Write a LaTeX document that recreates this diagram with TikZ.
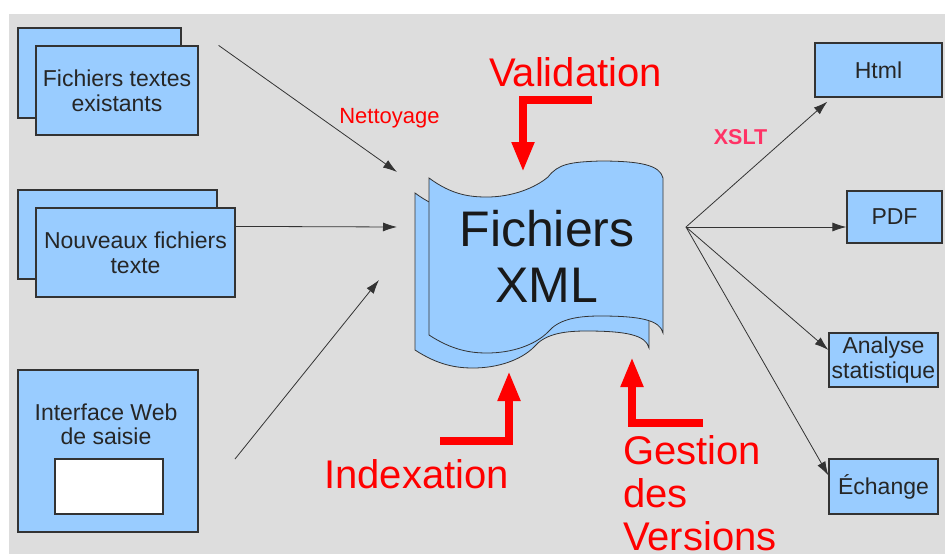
\documentclass[tikz,border=0pt]{standalone}
\usepackage{fontspec}
\setmainfont{Liberation Sans}
\usetikzlibrary{arrows.meta,calc}
\definecolor{hellblau}{HTML}{99CCFF}
\definecolor{hintergrund}{HTML}{DDDDDD}
\definecolor{rand}{HTML}{333333}
\definecolor{xsltrot}{HTML}{FF3366}
\begin{document}
\begin{tikzpicture}
	[
	x=1pt, y=-1pt, 
	kasten/.style={draw=rand, line width=1.2pt, fill=hellblau, text=black!85, align=center, inner sep=0pt, font=\fontsize{23}{25}\selectfont},
	pfeil/.style={-{Latex[length=14pt,width=9pt]}, draw=black!80, line width=0.8pt},
	rotpfeil/.style={-{Triangle[length=30pt,width=21pt]}, draw=red, line width=8pt, line join=miter},
	rottext/.style={text=red, inner sep=0pt, font=\fontsize{40}{43}\selectfont}
	%Voreinstellungen
	]
	%Hintergrund
	\useasboundingbox (0,0) rectangle (945,554);
	\fill[hintergrund] (9,14) rectangle (945,554);
	%Quellen links
	\node[kasten, minimum width=163pt, minimum height=90pt] (exist-hinten) at (99.5,73) {};
	\node[kasten, minimum width=162pt, minimum height=89pt] (exist) at (117,90.5) {Fichiers textes\\existants};
	\node[kasten, minimum width=199pt, minimum height=89pt] (neu-hinten) at (117.5,234.5) {};
	\node[kasten, minimum width=199pt, minimum height=89pt] (neu) at (135.5,252.5) {Nouveaux fichiers\\texte};
	\node[kasten, minimum width=180pt, minimum height=162pt] (web) at (108,451) {};
	\node[text=black!85, align=center, inner sep=0pt, font=\fontsize{23}{24}\selectfont] (web-text) at (106,424) {Interface Web\\de saisie};
	\node[draw=rand, line width=1.2pt, fill=white, minimum width=108pt, minimum height=55pt] (feld) at (109,486.5) {};
	%Rolle XML
	\foreach \dx/\dy in {-14/15, 0/0}
	{
		\draw[draw=rand, line width=0.8pt, fill=hellblau, shift={(\dx,\dy)}] (429,178) .. controls (452,195) and (470,197) .. (487,197)
			.. controls (512,197) and (535,188) .. (548,177) .. controls (558,164) and (570,162) .. (600,161)
			.. controls (640,161) and (660,165) .. (663,178) -- (663,333)
			.. controls (660,320) and (640,316) .. (600,316) .. controls (575,316) and (558,320) .. (548,332)
			.. controls (535,345) and (512,353) .. (487,353) .. controls (470,353) and (452,350) .. (429,335) -- cycle;
	}
	\node[text=black!90, align=center, inner sep=0pt, font=\fontsize{50}{56}\selectfont] (xml) at (547,256) {Fichiers\\XML};
	%Ausgaben rechts
	\node[kasten, minimum width=127pt, minimum height=54pt] (html) at (878.5,70) {Html};
	\node[kasten, minimum width=95pt, minimum height=52pt] (pdf) at (894.5,217) {PDF};
	\node[kasten, minimum width=109pt, minimum height=54pt] (ana) at (883.5,360) {Analyse\\statistique};
	\node[kasten, minimum width=109pt, minimum height=55pt] (ech) at (883.5,486.5) {Échange};
	%Pfeile
	\coordinate (ein1) at (397,172);
	\coordinate (ein2) at (397,227);
	\coordinate (ein3) at (379,280);
	\coordinate (web-aus) at (235,459);
	\coordinate (fan) at (686,227);
	\draw[pfeil] ($(exist.north east)+(20,0)$) -- (ein1);
	\draw[pfeil] ($(neu.north east)+(0,19)$) -- (ein2);
	\draw[pfeil] (web-aus) -- (ein3);
	\draw[pfeil] (fan) -- ($(html.south west)+(13,4)$);
	\draw[pfeil] (fan) -- (pdf.west |- fan);
	\draw[pfeil] (fan) -- ($(ana.west)+(0,-10)$);
	\draw[pfeil] (fan) -- ($(ech.west)+(0,-11)$);
	\node[text=red, inner sep=0pt, font=\fontsize{22}{25}\selectfont, anchor=base] (nett) at (389.5,123) {Nettoyage};
	\node[text=xsltrot, inner sep=0pt, font=\fontsize{21.5}{25}\selectfont\bfseries, anchor=base] (xslt) at (740.5,144) {XSLT};
	%Rote Pfeile
	\node[rottext, anchor=base] (valid) at (575.5,86) {Validation};
	\draw[rotpfeil] (592,100) -| (523,172);
	\node[rottext, anchor=base] (index) at (416.5,488) {Indexation};
	\draw[rotpfeil] (440,441) -| (509,371);
	\node[rottext, align=left, anchor=north west] (gest) at (623,435) {Gestion\\des\\Versions};
	\draw[rotpfeil] (703,423) -| (632,357);
\end{tikzpicture}
\end{document}
